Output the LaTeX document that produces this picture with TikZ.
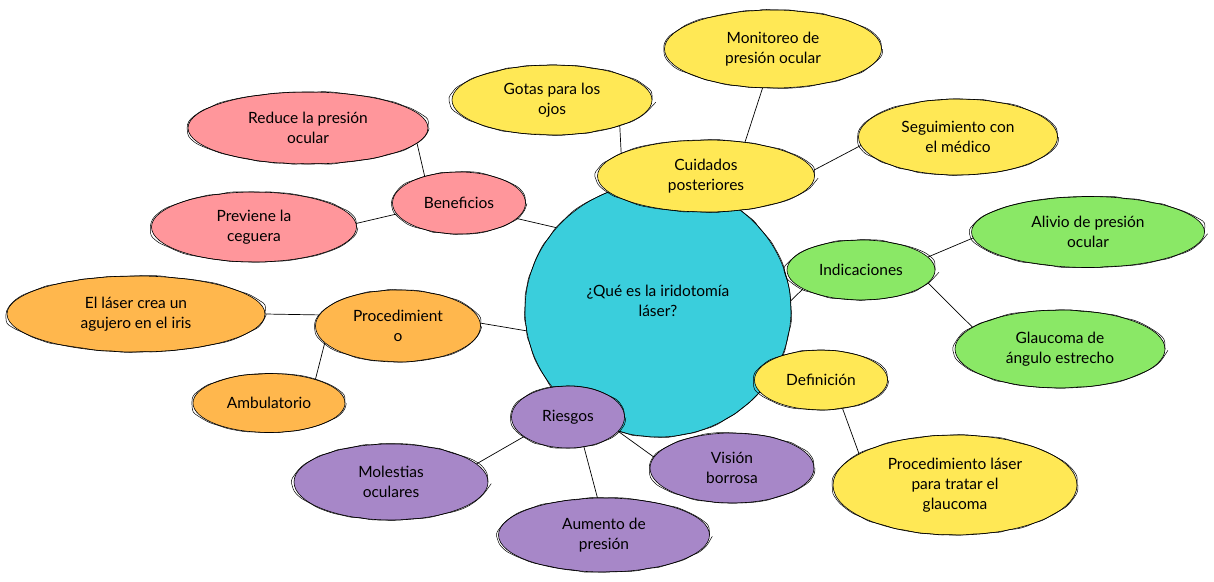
\documentclass[tikz,border=0pt]{standalone}
\usepackage{fontspec}
\setmainfont{Lato}
\usepackage{xcolor}
\usetikzlibrary{shapes.geometric,backgrounds,decorations.pathmorphing}
\definecolor{rootcol}{RGB}{58,206,220}
\definecolor{yelcol}{RGB}{255,232,85}
\definecolor{pinkcol}{RGB}{255,150,155}
\definecolor{orcol}{RGB}{255,183,77}
\definecolor{grcol}{RGB}{138,232,102}
\definecolor{purcol}{RGB}{167,135,200}

\begin{document}
\begin{tikzpicture}[x=1pt,y=-1pt,
		bub/.style={ellipse,draw=black,line width=0.6pt,inner sep=0pt,align=center,
			font=\fontsize{15.5}{20}\selectfont,
			postaction={draw,decorate,decoration={random steps,segment length=9pt,amplitude=0.8pt},rounded corners=3pt,line width=0.5pt}},
		link/.style={draw=black,line width=0.7pt}]
			\useasboundingbox (0,0) rectangle (1214,581);
			\node[bub,fill=rootcol,minimum width=266pt,minimum height=254pt,text depth=19pt] (root) at (658,310) {¿Qué es la iridotomía\\láser?};
			\node[bub,fill=pinkcol,minimum width=133pt,minimum height=62pt] (ben) at (459,203) {Beneficios};
			\node[bub,fill=pinkcol,minimum width=240pt,minimum height=72pt] (red) at (308,128) {Reduce la presión\\ocular};
			\node[bub,fill=pinkcol,minimum width=205pt,minimum height=70pt] (prev) at (254,227) {Previene la\\ceguera};
			\node[bub,fill=orcol,minimum width=165pt,minimum height=72pt] (proc) at (398,326) {Procedimient\\o};
			\node[bub,fill=orcol,minimum width=258pt,minimum height=76pt] (laser) at (136,314) {El láser crea un\\agujero en el iris};
			\node[bub,fill=orcol,minimum width=152pt,minimum height=59pt] (amb) at (269,403) {Ambulatorio};
			\node[bub,fill=yelcol,minimum width=217pt,minimum height=72pt] (cuid) at (706,176) {Cuidados\\posteriores};
			\node[bub,fill=yelcol,minimum width=200pt,minimum height=70pt] (gotas) at (552,100) {Gotas para los\\ojos};
			\node[bub,fill=yelcol,minimum width=217pt,minimum height=78pt] (mon) at (773,49) {Monitoreo de\\presión ocular};
			\node[bub,fill=yelcol,minimum width=199pt,minimum height=76pt] (seg) at (958,137) {Seguimiento con\\el médico};
			\node[bub,fill=grcol,minimum width=148pt,minimum height=60pt] (ind) at (861,270) {Indicaciones};
			\node[bub,fill=grcol,minimum width=233pt,minimum height=71pt] (aliv) at (1088,232) {Alivio de presión\\ocular};
			\node[bub,fill=grcol,minimum width=210pt,minimum height=78pt] (glau) at (1060,349) {Glaucoma de\\ángulo estrecho};
			\node[bub,fill=yelcol,minimum width=133pt,minimum height=60pt] (defi) at (821,380) {Definición};
			\node[bub,fill=yelcol,minimum width=244pt,minimum height=100pt] (plas) at (955,485) {Procedimiento láser\\para tratar el\\glaucoma};
			\node[bub,fill=purcol,minimum width=113pt,minimum height=62pt] (ries) at (568,417) {Riesgos};
			\node[bub,fill=purcol,minimum width=194pt,minimum height=76pt] (mol) at (391,482) {Molestias\\oculares};
			\node[bub,fill=purcol,minimum width=211pt,minimum height=74pt] (aum) at (604,535) {Aumento de\\presión};
			\node[bub,fill=purcol,minimum width=164pt,minimum height=70pt] (vis) at (732,468) {Visión\\borrosa};
			\begin{pgfonlayer}{background}
				\draw[link] (ben.-15) -- (root.141);
				\draw[link] (red.-8) -- (ben.142);
				\draw[link] (prev.2) -- (ben.190);
				\draw[link] (proc.2) -- (root.189);
				\draw[link] (laser.0) -- (proc.172);
				\draw[link] (amb.27) -- (proc.193);
				\draw[link] (root) -- (cuid);
				\draw[link] (gotas.-21) -- (cuid.165);
				\draw[link] (mon.255) -- (cuid.41);
				\draw[link] (cuid.3) -- (seg.185);
				\draw[link] (root.4) -- (ind.198);
				\draw[link] (ind.11) -- (aliv.183);
				\draw[link] (ind.-11) -- (glau.166);
				\draw[link] (root) -- (defi);
				\draw[link] (defi.-53) -- (plas.162);
				\draw[link] (root) -- (ries);
				\draw[link] (ries.204) -- (mol.12);
				\draw[link] (ries.-62) -- (aum.100);
				\draw[link] (ries.-16) -- (vis.172);
			\end{pgfonlayer}
		\end{tikzpicture}
\end{document}
